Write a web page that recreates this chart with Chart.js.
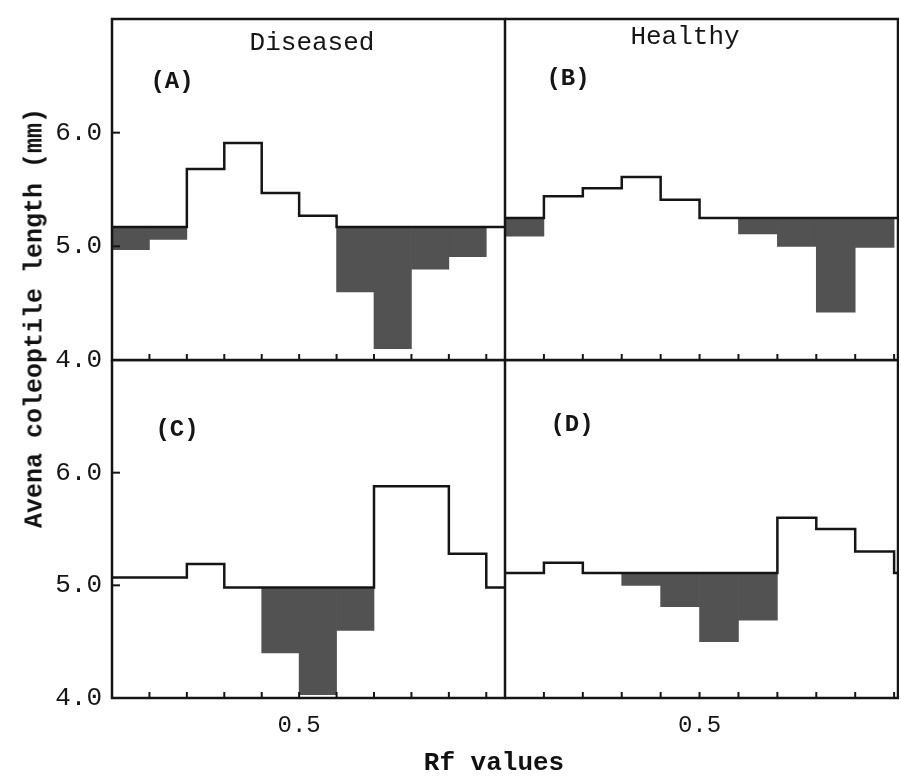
<!DOCTYPE html>
<html>
<head>
<meta charset="utf-8">
<title>Avena coleoptile length vs Rf values</title>
<script src="https://cdn.jsdelivr.net/npm/chart.js@4.4.0/dist/chart.umd.min.js"></script>
<style>
  html, body { margin: 0; padding: 0; background: #fff; }
  #wrap { position: relative; width: 901px; height: 776px; overflow: hidden;
          font-family: 'Liberation Mono', 'DejaVu Sans Mono', monospace; color: #111; }
  canvas { position: absolute; }
  #cA { left: 0; top: 0; }
  #cB { left: 505px; top: 0; }
  #cC { left: 0; top: 360px; }
  #cD { left: 505px; top: 360px; }
  .ytitle { position: absolute; left: 35px; top: 318px; white-space: nowrap;
            transform: translate(-50%, -50%) rotate(-90deg);
            font-size: 25px; font-weight: bold; }
  .xtitle { position: absolute; left: 494px; top: 763px; white-space: nowrap;
            transform: translate(-50%, -50%); font-size: 26px; font-weight: bold; }
</style>
</head>
<body>
<div id="wrap">
  <canvas id="cA" width="506" height="378"></canvas>
  <canvas id="cB" width="394" height="362"></canvas>
  <canvas id="cC" width="506" height="416"></canvas>
  <canvas id="cD" width="394" height="416"></canvas>
  <div class="ytitle">Avena coleoptile length (mm)</div>
  <div class="xtitle">Rf values</div>
</div>
<script>
document.addEventListener('DOMContentLoaded', function() {

    // --- data ---
    // Rf bins (start of each 0.1 strip on the chromatogram)
    const binStarts = [0.0, 0.1, 0.2, 0.3, 0.4, 0.5, 0.6, 0.7, 0.8, 0.9];
    const binWidth = 0.1;
    const xTickValues = [0.1, 0.2, 0.3, 0.4, 0.5, 0.6, 0.7, 0.8, 0.9, 1.0];
    const xLabelValues = [0.5];
    const yTickValues = [4.0, 5.0, 6.0];

    // control level (horizontal line) and bin values, mm; null = at control
    const controlA = 5.17;
    const diseasedA = [4.97, 5.06, 5.68, 5.91, 5.47, 5.27, 4.60, 4.10, 4.80, 4.91];
    const controlB = 5.25;
    const healthyB = [5.09, 5.44, 5.51, 5.61, 5.41, null, 5.11, 5.00, 4.42, 4.99];
    const controlC = 4.98;
    const diseasedC = [5.07, 5.07, 5.19, null, 4.40, 4.03, 4.60, 5.88, 5.88, 5.28];
    const controlD = 5.11;
    const healthyD = [null, 5.20, null, 5.00, 4.81, 4.50, 4.69, 5.60, 5.50, 5.30];

    const INK = '#151515';
    const SHADE = '#525252';
    const MONO = "'Liberation Mono', 'DejaVu Sans Mono', monospace";

    // frame, small tick marks and panel captions
    const panelFrame = {
        id: 'panelFrame',
        afterDraw(chart, args, opts) {
            const { ctx, chartArea: a, scales } = chart;
            ctx.save();
            ctx.strokeStyle = INK;
            ctx.lineWidth = 2.5;
            ctx.strokeRect(a.left, a.top, a.right - a.left, a.bottom - a.top);

            ctx.lineWidth = 2;
            xTickValues.forEach(v => {
                const px = scales.x.getPixelForValue(v);
                ctx.beginPath();
                ctx.moveTo(px, a.bottom);
                ctx.lineTo(px, a.bottom - 6);
                ctx.stroke();
            });
            if (opts.yMarks) {
                yTickValues.slice(1).forEach(v => {
                    const py = scales.y.getPixelForValue(v);
                    ctx.beginPath();
                    ctx.moveTo(a.left, py);
                    ctx.lineTo(a.left + 8, py);
                    ctx.stroke();
                });
            }

            ctx.fillStyle = INK;
            ctx.textAlign = 'center';
            ctx.textBaseline = 'middle';
            if (opts.title) {
                ctx.font = '26px ' + MONO;
                ctx.fillText(opts.title, a.left + opts.titleAt[0], a.top + opts.titleAt[1]);
            }
            ctx.font = 'bold 24px ' + MONO;
            ctx.fillText(opts.letter, a.left + opts.letterAt[0], a.top + opts.letterAt[1]);
            ctx.restore();
        }
    };

    function noPad(s) {
        s.paddingTop = 0; s.paddingBottom = 0;
        s.paddingLeft = 0; s.paddingRight = 0;
    }

    function makePanel(id, control, values, cfg) {
        // dark blocks: bins that fall below the control line
        const below = [];
        binStarts.forEach((s, i) => {
            const v = values[i];
            if (v !== null && v < control) below.push({ x: s + binWidth / 2, y: [v, control] });
        });
        // step outline: bins above the control line, control line elsewhere
        const outline = binStarts.map((s, i) => {
            const v = values[i];
            return { x: s, y: (v !== null && v > control) ? v : control };
        });
        outline.push({ x: binStarts[binStarts.length - 1] + binWidth, y: control });
        outline.push({ x: cfg.xMax, y: control });

        new Chart(document.getElementById(id), {
            data: {
                datasets: [
                    {
                        type: 'line',
                        data: outline,
                        stepped: 'before',
                        borderColor: INK,
                        borderWidth: 2.5,
                        borderJoinStyle: 'miter',
                        pointRadius: 0,
                        fill: false
                    },
                    {
                        type: 'bar',
                        data: below,
                        backgroundColor: SHADE,
                        borderWidth: 0,
                        barPercentage: 1,
                        categoryPercentage: 1
                    }
                ]
            },
            options: {
                responsive: false,
                animation: false,
                events: [],
                layout: { padding: { top: cfg.padTop, right: 1, left: 0, bottom: 0 } },
                plugins: {
                    legend: { display: false },
                    tooltip: { enabled: false },
                    panelFrame: cfg.frame
                },
                scales: {
                    x: {
                        type: 'linear',
                        offset: false,
                        min: 0,
                        max: cfg.xMax,
                        afterBuildTicks: s => { s.ticks = xTickValues.map(v => ({ value: v })); },
                        afterFit: s => { s.height = cfg.xHeight; noPad(s); },
                        grid: { display: false, drawTicks: false, offset: false },
                        border: { display: false },
                        ticks: {
                            display: cfg.xLabels,
                            autoSkip: false,
                            maxRotation: 0,
                            padding: 13,
                            color: INK,
                            font: { family: MONO, size: 24 },
                            callback: v => xLabelValues.includes(v) ? v.toFixed(1) : ''
                        }
                    },
                    y: {
                        type: 'linear',
                        min: 4,
                        max: 7,
                        afterBuildTicks: s => { s.ticks = yTickValues.map(v => ({ value: v })); },
                        afterFit: s => { s.width = cfg.yLabels ? 112 : 0; noPad(s); },
                        grid: { display: false, drawTicks: false },
                        border: { display: false },
                        ticks: {
                            display: cfg.yLabels,
                            padding: 10,
                            color: INK,
                            font: { family: MONO, size: 26 },
                            callback: v => v.toFixed(1)
                        }
                    }
                }
            },
            plugins: [panelFrame]
        });
    }

    makePanel('cA', controlA, diseasedA, {
        xMax: 1.05, padTop: 19, xLabels: false, xHeight: 18, yLabels: true,
        frame: { yMarks: true, title: 'Diseased', titleAt: [200, 24], letter: '(A)', letterAt: [60, 63] }
    });
    makePanel('cB', controlB, healthyB, {
        xMax: 1.01, padTop: 19, xLabels: false, xHeight: 2, yLabels: false,
        frame: { yMarks: false, title: 'Healthy', titleAt: [180, 18], letter: '(B)', letterAt: [63, 60] }
    });
    makePanel('cC', controlC, diseasedC, {
        xMax: 1.05, padTop: 0, xLabels: true, xHeight: 78, yLabels: true,
        frame: { yMarks: true, title: '', titleAt: [0, 0], letter: '(C)', letterAt: [65, 70] }
    });
    makePanel('cD', controlD, healthyD, {
        xMax: 1.01, padTop: 0, xLabels: true, xHeight: 78, yLabels: false,
        frame: { yMarks: false, title: '', titleAt: [0, 0], letter: '(D)', letterAt: [67, 65] }
    });
});
</script>
</body>
</html>
